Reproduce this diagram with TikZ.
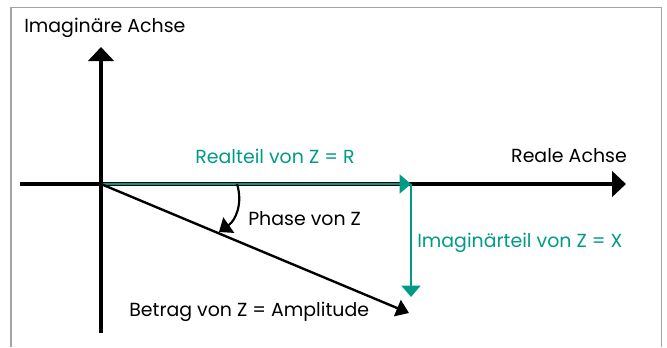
\documentclass[tikz,border=0pt]{standalone}
\usepackage{fontspec}
\setmainfont{Poppins}
\usetikzlibrary{arrows.meta,positioning}
\definecolor{phasorteal}{RGB}{0,155,135}
\definecolor{framegray}{RGB}{165,165,165}

\begin{document}
\begin{tikzpicture}[
        x=0.75pt, y=-0.75pt,
        axis/.style={line width=3.3pt, -{Triangle[length=10.5pt,width=19pt]}},
        part/.style={draw=phasorteal, line width=1.9pt,
                     -{Triangle[length=8.5pt,width=14pt]}},
        vector/.style={line width=1.8pt, -{Triangle[length=9.5pt,width=13pt]}},
        lbl/.style={inner sep=0pt, font=\fontsize{14.2}{16}\selectfont},
        teallbl/.style={lbl, text=phasorteal}
    ]
        \useasboundingbox (0,0) rectangle (667,347);
        \draw[framegray, line width=0.8pt] (11,347) -- (11,7.5) -- (661.5,7.5) -- (661.5,347);

        \coordinate (origin) at (101,184);
        \coordinate (re-left) at (20,184);
        \coordinate (re-right) at (626,184);
        \coordinate (im-bottom) at (101,333);
        \coordinate (im-top) at (101,47);
        \coordinate (r-tip) at (411,184);
        \coordinate (x-tip) at (411,297);
        \coordinate (z-tip) at (409,313);
        \coordinate (phase-start) at (237,184);
        \coordinate (phase-end) at (219,232);

        % axes
        \draw[axis] (re-left) -- (re-right);
        \draw[axis] (im-bottom) -- (im-top);

        % components of Z
        \draw[part] (origin) -- (r-tip);
        \draw[part] (r-tip) -- (x-tip);
        \draw[vector] (origin) -- (z-tip);
        \draw[line width=1.6pt, -{Triangle[length=9pt,width=14pt]}]
            (phase-start) .. controls (243,203) and (236,220) .. (phase-end);

        \node[lbl, anchor=west] (im-axis) at (24,28) {Imaginäre Achse};
        \node[lbl, anchor=east] (re-axis) at (627,156) {Reale Achse};
        \node[teallbl] (realteil) at (275,156) {Realteil von Z = R};
        \node[lbl, anchor=west] (phase) at (248,219) {Phase von Z};
        \node[teallbl, anchor=west] (imagteil) at (417,243) {Imaginärteil von Z = X};
        \node[lbl, anchor=west] (betrag) at (129,312) {Betrag von Z = Amplitude};
    \end{tikzpicture}
\end{document}
